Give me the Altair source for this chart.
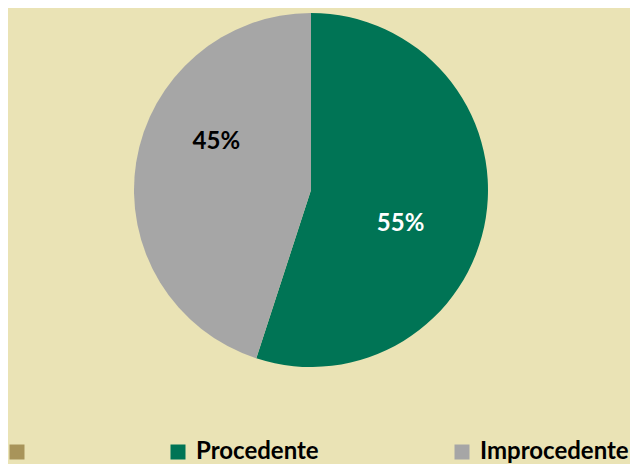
import altair as alt
import pandas as pd

categories = [" ", "Procedente", "Improcedente"]
values = [0, 55, 45]
labels = ["", "55%", "45%"]
order = [0, 1, 2]
colors = ["#A8945A", "#007455", "#A6A6A6"]

df = pd.DataFrame({"cat": categories, "val": values, "label": labels, "ord": order})

BG = "#EAE3B5"

color_scale = alt.Scale(domain=categories, range=colors)
theta_scale = alt.Scale(domain=[0, 100], range=[0, 6.283185307])

pie = alt.Chart(df).mark_arc(outerRadius=177, stroke=None).encode(
    theta=alt.Theta("val:Q", stack=True, scale=theta_scale),
    order=alt.Order("ord:Q"),
    color=alt.Color(
        "cat:N",
        scale=color_scale,
        sort=categories,
        legend=alt.Legend(
            title=None,
            orient="none",
            legendX=-3,
            legendY=432,
            direction="horizontal",
            columns=3,
            columnPadding=131,
            symbolType="square",
            symbolSize=225,
            symbolStrokeWidth=0,
            labelFont="Lato",
            labelFontWeight="bold",
            labelFontSize=24,
            labelColor="#000000",
            labelOffset=6,
            labelLimit=300,
        ),
    ),
)

text_base = (
    alt.Chart(df)
    .transform_window(cum="sum(val)", sort=[alt.SortField("ord")], frame=[None, 0])
    .transform_calculate(mid="datum.cum - datum.val / 2")
)

lbl_white = text_base.transform_filter(alt.datum.cat == "Procedente").mark_text(
    radius=96, thetaOffset=0.21, font="Lato", fontWeight="bold", fontSize=24, color="#FFFFFF"
).encode(theta=alt.Theta("mid:Q", scale=theta_scale), text="label:N")

lbl_black = text_base.transform_filter(alt.datum.cat == "Improcedente").mark_text(
    radius=106, thetaOffset=0.31, font="Lato", fontWeight="bold", fontSize=24, color="#000000"
).encode(theta=alt.Theta("mid:Q", scale=theta_scale), text="label:N")

chart = (
    alt.layer(pie, lbl_white, lbl_black)
    .properties(
        width=606,
        height=364,
        background=BG,
        padding={"left": 0, "top": 0, "right": 16, "bottom": 92},
        autosize=alt.AutoSizeParams(type="none"),
    )
    .configure_view(stroke=None)
)

chart.save("out.html", embed_options={"renderer": "svg", "actions": False})
